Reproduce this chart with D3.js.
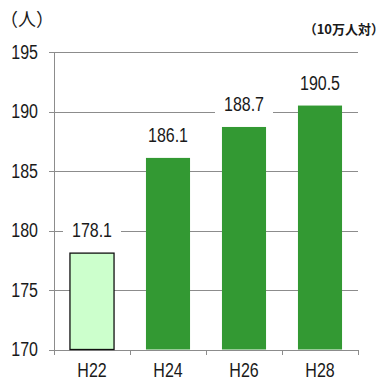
<!DOCTYPE html>
<html>
<head>
<meta charset="utf-8">
<script src="https://cdn.jsdelivr.net/npm/d3@7"></script>
<style>
  html, body { margin: 0; padding: 0; background: #fff; }
  svg { display: block; }
</style>
</head>
<body>
<svg id="chart" width="385" height="380"></svg>
<script>
const categories = ["H22", "H24", "H26", "H28"];
const values = [178.1, 186.1, 188.7, 190.5];
const yTicks = [170, 175, 180, 185, 190, 195];
const unitLabel = "（人）";
const noteLabel = "（10万人対）";

const W = 385, H = 380;
const plotLeft = 54, plotRight = 358, plotTop = 52, plotBottom = 349.5;
const numFont = "'Liberation Sans', Arial, sans-serif";
const cjkFont = "'Noto Sans CJK JP', sans-serif";
const gridColor = "#8c8c8c";
const textColor = "#1a1a1a";
const sx = 0.8; // horizontal condensing of numeric text

const svg = d3.select("#chart");

const x = d3.scaleBand().domain(categories).range([plotLeft, plotRight])
  .paddingInner(0.42).paddingOuter(0.21);
const y = d3.scaleLinear().domain([170, 195]).range([plotBottom, plotTop]);

// y axis with gridlines
const pad = 11;
const yAxis = d3.axisLeft(y).tickValues(yTicks).tickFormat(d3.format("d"))
  .tickSizeInner(-(plotRight - plotLeft + 5)).tickSizeOuter(0).tickPadding(pad);
const gy = svg.append("g").attr("transform", `translate(${plotLeft - 5},0)`).call(yAxis);
gy.select(".domain").remove();
gy.selectAll(".tick line").attr("stroke", gridColor).attr("stroke-width", 1)
  .attr("shape-rendering", "crispEdges");
gy.selectAll(".tick text").attr("fill", textColor)
  .attr("x", -pad / sx)
  .attr("transform", `scale(${sx},1)`)
  .style("font-family", numFont).style("font-size", "20px");

// y axis vertical line
svg.append("line")
  .attr("x1", plotLeft).attr("x2", plotLeft)
  .attr("y1", y(195)).attr("y2", y(170))
  .attr("stroke", gridColor).attr("stroke-width", 1).attr("shape-rendering", "crispEdges");

// x axis labels
const xAxis = d3.axisBottom(x).tickSize(0).tickPadding(13);
const gx = svg.append("g").attr("transform", `translate(0,${y(170)})`).call(xAxis);
gx.select(".domain").remove();
gx.selectAll(".tick text").attr("fill", textColor)
  .attr("transform", `scale(${sx},1)`)
  .style("font-family", numFont).style("font-size", "20px");

// x-axis tick marks at band boundaries
const gap = (x.step() - x.bandwidth()) / 2;
const boundaries = categories.map(c => x(c) - gap).concat([x(categories[categories.length - 1]) + x.bandwidth() + gap]);
svg.append("g").selectAll("line").data(boundaries).join("line")
  .attr("x1", d => Math.round(d)).attr("x2", d => Math.round(d))
  .attr("y1", y(170)).attr("y2", y(170) + 5)
  .attr("stroke", gridColor).attr("stroke-width", 1).attr("shape-rendering", "crispEdges");

// bars
svg.append("g").selectAll("rect").data(values).join("rect")
  .attr("x", (d, i) => x(categories[i]))
  .attr("width", x.bandwidth())
  .attr("y", d => y(d))
  .attr("height", d => y(170) - y(d))
  .attr("fill", (d, i) => i === 0 ? "#ccffcc" : "#339933")
  .attr("stroke", (d, i) => i === 0 ? "#111" : "none")
  .attr("stroke-width", 1.3);

// value labels with white boxes
const lg = svg.append("g");
values.forEach((v, i) => {
  const cx = x(categories[i]) + x.bandwidth() / 2;
  const base = y(v) - 16;
  const r = lg.append("rect").attr("fill", "#fff");
  const t = lg.append("text")
    .attr("transform", `translate(${cx},${base}) scale(${sx},1)`)
    .attr("text-anchor", "middle")
    .attr("fill", textColor)
    .style("font-family", numFont).style("font-size", "20px")
    .text(v.toFixed(1));
  const bb = t.node().getBBox();
  r.attr("x", cx - 29).attr("width", 58)
    .attr("y", base + bb.y - 3).attr("height", bb.height + 7);
});

// unit labels
svg.append("text").attr("x", 0).attr("y", 26)
  .attr("fill", textColor)
  .style("font-family", cjkFont).style("font-size", "18px")
  .text(unitLabel);
svg.append("text").attr("x", 384).attr("y", 34)
  .attr("text-anchor", "end")
  .attr("fill", textColor)
  .style("font-family", cjkFont).style("font-size", "13px").style("font-weight", "bold")
  .text(noteLabel);
</script>
</body>
</html>
